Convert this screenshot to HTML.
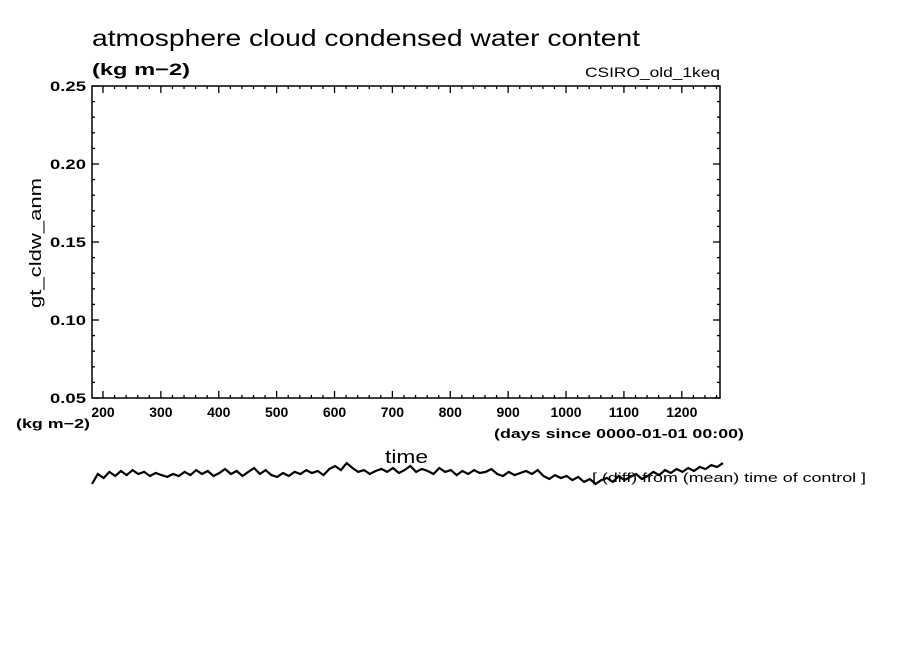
<!DOCTYPE html>
<html><head><meta charset="utf-8"><style>
body{margin:0;background:#fff;}
svg{display:block;font-family:"Liberation Sans",sans-serif;}
</style></head><body>
<svg id="c" width="904" height="654" viewBox="0 0 904 654">
<text x="92" y="46" font-size="23" textLength="548" lengthAdjust="spacingAndGlyphs">atmosphere cloud condensed water content</text>
<text x="92" y="75" font-size="17" font-weight="bold" textLength="98" lengthAdjust="spacingAndGlyphs">(kg m−2)</text>
<text x="585" y="77" font-size="14" textLength="135" lengthAdjust="spacingAndGlyphs">CSIRO_old_1keq</text>
<rect x="92" y="86" width="628" height="312" fill="none" stroke="#000" stroke-width="1.5"/>
<g id="ticks"></g>
<text transform="translate(41,243) rotate(-90)" font-size="17" text-anchor="middle" textLength="130" lengthAdjust="spacingAndGlyphs">gt_cldw_anm</text>
<text x="16" y="428" font-size="13" font-weight="bold" textLength="74" lengthAdjust="spacingAndGlyphs">(kg m−2)</text>
<text x="494" y="438" font-size="13" font-weight="bold" textLength="250" lengthAdjust="spacingAndGlyphs">(days since 0000-01-01 00:00)</text>
<text x="385" y="463" font-size="18" textLength="43" lengthAdjust="spacingAndGlyphs">time</text>
<text x="592" y="482" font-size="13" textLength="274" lengthAdjust="spacingAndGlyphs">[ (diff) from (mean) time of control ]</text>
<g id="series"></g>
</svg>
<script>
const xTicks=[200,300,400,500,600,700,800,900,1000,1100,1200];
const yTicks=[0.05,0.10,0.15,0.20,0.25];
const startDay=181, stepDay=10;
const anomaly=[-5.1,1.3,-1.3,2.6,0,3.2,0.6,3.8,1.3,2.6,0,1.9,
0.6,-0.6,1.3,0,2.6,0.6,3.8,1.3,3.2,0,1.9,4.5,1.3,3.2,0,2.6,5.1,1.3,3.8,0.6,-0.6,1.9,0,2.6,1.3,3.8,1.9,3.2,0.6,4.5,
6.4,3.8,8.3,5.1,2.6,3.8,1.3,3.2,4.5,2.6,5.1,1.9,3.8,6.4,2.6,4.5,
3.2,1.3,5.1,2.6,3.8,0.6,3.2,1.3,3.8,1.9,2.6,4.5,1.3,0,2.6,0.6,1.9,3.2,1.3,3.8,0,-1.9,0.6,-1.3,
0,-2.6,-0.6,-3.8,-1.9,-5.1,-2.6,-1.3,-3.8,0,-2.6,-0.6,1.3,-1.9,0,2.6,0.6,3.8,1.9,4.5,2.6,5.1,3.2,5.8,4.5,7.0,5.8,8.3];
const X0=92,X1=720,Y0=398,Y1=86,D0=181,D1=1266,V0=0.05,V1=0.25;
const xs=d=>X0+(d-D0)/(D1-D0)*(X1-X0);
const ys=v=>Y0-(v-V0)/(V1-V0)*(Y0-Y1);
const NS="http://www.w3.org/2000/svg";
const tg=document.getElementById('ticks');
function ln(x1,y1,x2,y2,w){const l=document.createElementNS(NS,'line');l.setAttribute('x1',x1);l.setAttribute('y1',y1);l.setAttribute('x2',x2);l.setAttribute('y2',y2);l.setAttribute('stroke','#000');l.setAttribute('stroke-width',w||1);tg.appendChild(l);return l;}
for(let d=200;d<=1260;d+=20){const x=xs(d);const major=d%100===0;const L=major?7:3;
const a=ln(x,Y0,x,Y0-L,1.3);


const b=ln(x,Y1,x,Y1+L,1.3);

}
for(let i=0;i<=20;i++){const v=0.05+i*0.01;const y=ys(v);const major=i%5===0;const L=major?7:3;
const a=ln(X0,y,X0+L,y,1.3);


const b=ln(X1,y,X1-L,y,1.3);

}
xTicks.forEach(d=>{const t=document.createElementNS(NS,'text');t.setAttribute('x',xs(d));t.setAttribute('y',417);t.setAttribute('font-size','14');t.setAttribute('font-weight','bold');t.setAttribute('text-anchor','middle');t.textContent=d;


tg.appendChild(t);});
yTicks.forEach(v=>{const t=document.createElementNS(NS,'text');t.setAttribute('x',50);t.setAttribute('y',ys(v)+5);t.setAttribute('font-size','14');t.setAttribute('font-weight','bold');t.setAttribute('textLength','36');t.setAttribute('lengthAdjust','spacingAndGlyphs');t.textContent=v.toFixed(2);


tg.appendChild(t);});
const pts=anomaly.map((a,i)=>xs(startDay+i*stepDay).toFixed(1)+','+ys(a/1000).toFixed(1)).join(' ');
const pl=document.createElementNS(NS,'polyline');
pl.setAttribute('points',pts);pl.setAttribute('fill','none');pl.setAttribute('stroke','#000');pl.setAttribute('stroke-width','2.2');


document.getElementById('series').appendChild(pl);
</script>
</body></html>
